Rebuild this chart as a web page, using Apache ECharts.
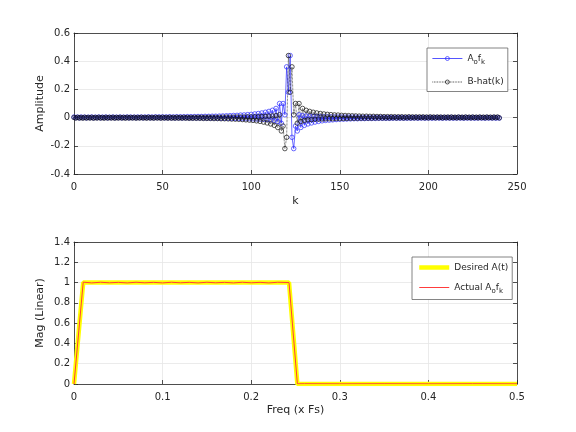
<!DOCTYPE html>
<html>
<head>
<meta charset="utf-8">
<script src="https://cdn.jsdelivr.net/npm/echarts@6/dist/echarts.min.js"></script>
<style>
html,body{margin:0;padding:0;background:#fff;}
#chart{width:576px;height:432px;}
</style>
</head>
<body>
<div id="chart"></div>
<script>
// top plot: coefficients over k = 0..240
var ampA = [
  0.004,-0.001,0.003,-0.002,0.004,-0.001,0.003,-0.002,0.003,-0.001,
  0.004,-0.002,0.003,-0.001,0.004,-0.002,0.003,-0.001,0.004,-0.002,
  0.003,-0.001,0.004,-0.002,0.003,-0.001,0.004,-0.002,0.003,-0.001,
  0.004,-0.002,0.004,-0.001,0.003,-0.002,0.004,-0.001,0.004,-0.002,
  0.004,-0.001,0.005,-0.002,0.004,-0.002,0.005,-0.001,0.005,-0.002,
  0.005,-0.002,0.005,-0.002,0.006,-0.002,0.005,-0.003,0.006,-0.002,
  0.006,-0.003,0.006,-0.002,0.007,-0.003,0.007,-0.003,0.007,-0.003,
  0.008,-0.003,0.008,-0.003,0.009,-0.004,0.009,-0.004,0.010,-0.004,
  0.010,-0.004,0.011,-0.005,0.012,-0.005,0.013,-0.005,0.014,-0.006,
  0.015,-0.006,0.016,-0.007,0.018,-0.007,0.019,-0.008,0.021,-0.008,
  0.023,-0.009,0.026,-0.010,0.029,-0.011,0.033,-0.012,0.038,-0.014,
  0.044,-0.016,0.052,-0.020,0.065,-0.028,0.100,-0.040,0.100,0.020,
  0.360,0.180,0.440,-0.140,-0.220,-0.060,-0.095,0.020,-0.070,0.014,
  -0.055,0.012,-0.045,0.010,-0.038,0.009,-0.032,0.008,-0.027,0.007,
  -0.023,0.006,-0.020,0.005,-0.018,0.005,-0.016,0.004,-0.014,0.004,
  -0.012,0.004,-0.011,0.003,-0.010,0.003,-0.009,0.003,-0.008,0.003,
  -0.008,0.002,-0.007,0.002,-0.007,0.002,-0.006,0.002,-0.006,0.002,
  -0.006,0.002,-0.005,0.002,-0.005,0.002,-0.005,0.001,-0.005,0.001,
  -0.004,0.002,-0.004,0.001,-0.004,0.002,-0.004,0.001,-0.004,0.002,
  -0.004,0.001,-0.003,0.002,-0.004,0.001,-0.003,0.002,-0.004,0.001,
  -0.003,0.002,-0.004,0.001,-0.003,0.002,-0.003,0.001,-0.004,0.002,
  -0.003,0.001,-0.003,0.002,-0.004,0.001,-0.003,0.002,-0.003,0.001,
  -0.004,0.002,-0.003,0.001,-0.003,0.002,-0.004,0.001,-0.003,0.002,
  -0.003,0.001,-0.004,0.002,-0.003,0.001,-0.003,0.002,-0.004,0.001,
  -0.003
];
var ampB = [
  0.001,-0.003,0.002,-0.003,0.001,-0.004,0.002,-0.003,0.001,-0.003,
  0.002,-0.004,0.001,-0.003,0.002,-0.003,0.001,-0.004,0.002,-0.003,
  0.001,-0.003,0.002,-0.004,0.001,-0.003,0.002,-0.003,0.001,-0.004,
  0.002,-0.003,0.001,-0.003,0.002,-0.004,0.001,-0.003,0.002,-0.003,
  0.001,-0.004,0.002,-0.003,0.001,-0.004,0.002,-0.003,0.001,-0.004,
  0.002,-0.003,0.001,-0.004,0.002,-0.004,0.001,-0.004,0.002,-0.004,
  0.001,-0.004,0.002,-0.004,0.001,-0.005,0.001,-0.005,0.002,-0.005,
  0.002,-0.005,0.002,-0.006,0.002,-0.006,0.002,-0.006,0.002,-0.007,
  0.002,-0.007,0.002,-0.008,0.003,-0.008,0.003,-0.009,0.003,-0.010,
  0.003,-0.011,0.004,-0.012,0.004,-0.014,0.004,-0.016,0.005,-0.018,
  0.005,-0.020,0.006,-0.023,0.007,-0.027,0.008,-0.032,0.009,-0.038,
  0.010,-0.045,0.012,-0.055,0.014,-0.070,0.020,-0.095,-0.060,-0.220,
  -0.140,0.440,0.180,0.360,0.020,0.100,-0.040,0.100,-0.028,0.065,
  -0.020,0.052,-0.016,0.044,-0.014,0.038,-0.012,0.033,-0.011,0.029,
  -0.010,0.026,-0.009,0.023,-0.008,0.021,-0.008,0.019,-0.007,0.018,
  -0.007,0.016,-0.006,0.015,-0.006,0.014,-0.005,0.013,-0.005,0.012,
  -0.005,0.011,-0.004,0.010,-0.004,0.010,-0.004,0.009,-0.004,0.009,
  -0.003,0.008,-0.003,0.008,-0.003,0.007,-0.003,0.007,-0.003,0.007,
  -0.002,0.006,-0.003,0.006,-0.002,0.006,-0.003,0.005,-0.002,0.006,
  -0.002,0.005,-0.002,0.005,-0.002,0.005,-0.001,0.005,-0.002,0.004,
  -0.002,0.005,-0.001,0.004,-0.002,0.004,-0.001,0.004,-0.002,0.003,
  -0.001,0.004,-0.002,0.004,-0.001,0.003,-0.002,0.004,-0.001,0.003,
  -0.002,0.004,-0.001,0.003,-0.002,0.004,-0.001,0.003,-0.002,0.004,
  -0.001,0.003,-0.002,0.004,-0.001,0.003,-0.002,0.004,-0.001,0.004,
  -0.002
];

// bottom plot: magnitude vs frequency
var desiredFreq = [0, 0.0104, 0.2427, 0.2521, 0.5];
var desiredMag  = [0, 1, 1, 0, 0];
var actualFreq = [0, 0.0104, 0.02, 0.03, 0.04, 0.05, 0.06, 0.07, 0.08, 0.09, 0.10, 0.11, 0.12,
  0.13, 0.14, 0.15, 0.16, 0.17, 0.18, 0.19, 0.20, 0.21, 0.22, 0.23, 0.2427, 0.2521,
  0.26, 0.30, 0.35, 0.40, 0.45, 0.5];
var actualMag = [0, 1.004, 0.997, 1.003, 0.998, 1.002, 0.997, 1.003, 0.998, 1.002, 0.997, 1.003, 0.998,
  1.002, 0.997, 1.003, 0.998, 1.002, 0.997, 1.003, 0.998, 1.002, 0.997, 1.003, 1.000, 0.002,
  0.003, 0.002, 0.003, 0.002, 0.003, 0.002];

function pairs(xs, ys) {
    var out = [];
    for (var i = 0; i < ys.length; i++) {
        out.push([xs ? xs[i] : i, ys[i]]);
    }
    return out;
}

var axisColor = '#262626';
var gridColor = '#e6e6e6';
var legendText = {
    'A_o f_k': '{m|A}{s|o}{m|f}{s|k}',
    'B-hat(k)': '{m|B-hat(k)}',
    'Desired A(t)': '{m|Desired A(t)}',
    'Actual A_o f_k': '{m|Actual A}{s|o}{m|f}{s|k}'
};
var richText = {
    m: {fontSize: 9, color: axisColor, lineHeight: 14, verticalAlign: 'middle'},
    s: {fontSize: 7, color: axisColor, verticalAlign: 'bottom'}
};

function mainX(gi, min, max, step, name, gap) {
    return {
        type: 'value', gridIndex: gi, min: min, max: max, interval: step,
        name: name, nameLocation: 'middle', nameGap: gap,
        nameTextStyle: {fontSize: 11, color: axisColor},
        axisLine: {show: true, onZero: false, lineStyle: {color: axisColor, width: 0.8}},
        axisTick: {show: true, inside: true, length: 4, lineStyle: {color: axisColor, width: 0.8}},
        axisLabel: {fontSize: 10, color: axisColor, margin: 8},
        splitLine: {show: true, lineStyle: {color: gridColor, width: 0.8}}
    };
}
function mainY(gi, min, max, step, name) {
    return {
        type: 'value', gridIndex: gi, min: min, max: max, interval: step,
        name: name, nameLocation: 'middle', nameGap: 28, nameMoveOverlap: false,
        nameTextStyle: {fontSize: 11, color: axisColor},
        axisLine: {show: true, onZero: false, lineStyle: {color: axisColor, width: 0.8}},
        axisTick: {show: true, inside: true, length: 4, lineStyle: {color: axisColor, width: 0.8}},
        axisLabel: {fontSize: 10, color: axisColor, margin: 4},
        splitLine: {show: true, lineStyle: {color: gridColor, width: 0.8}}
    };
}
// box axes (top / right), ticks only
function boxAxis(gi, min, max, step, pos) {
    return {
        type: 'value', gridIndex: gi, min: min, max: max, interval: step, position: pos,
        axisLine: {show: true, onZero: false, lineStyle: {color: axisColor, width: 0.8}},
        axisTick: {show: true, inside: true, length: 4, lineStyle: {color: axisColor, width: 0.8}},
        axisLabel: {show: false},
        splitLine: {show: false}
    };
}

var chart = echarts.init(document.getElementById('chart'));
var option = {
    animation: false,
    backgroundColor: '#ffffff',
    textStyle: {fontFamily: 'DejaVu Sans'},
    grid: [
        {left: 74, top: 33, width: 443, height: 141},
        {left: 74, top: 242, width: 443, height: 142}
    ],
    xAxis: [
        mainX(0, 0, 250, 50, 'k', 22),
        mainX(1, 0, 0.5, 0.1, 'Freq (x Fs)', 21),
        boxAxis(0, 0, 250, 50, 'top'),
        boxAxis(1, 0, 0.5, 0.1, 'top')
    ],
    yAxis: [
        mainY(0, -0.4, 0.6, 0.2, 'Amplitude'),
        mainY(1, 0, 1.4, 0.2, 'Mag (Linear)'),
        boxAxis(0, -0.4, 0.6, 0.2, 'right'),
        boxAxis(1, 0, 1.4, 0.2, 'right')
    ],
    legend: [
        {
            data: ['A_o f_k', 'B-hat(k)'],
            orient: 'vertical', left: 427, top: 48,
            padding: [6, 4, 5, 5], itemWidth: 30, itemHeight: 5, itemGap: 12,
            backgroundColor: '#fff', borderColor: '#666', borderWidth: 0.8,
            lineStyle: {width: 0.8},
            itemStyle: {borderWidth: 0.7},
            formatter: function (n) { return legendText[n]; },
            textStyle: {rich: richText}
        },
        {
            data: [
                {name: 'Desired A(t)', itemStyle: {opacity: 0}},
                {name: 'Actual A_o f_k', itemStyle: {opacity: 0}}
            ],
            orient: 'vertical', left: 412, top: 257,
            padding: [6, 4, 5, 5], itemWidth: 30, itemHeight: 8, itemGap: 11,
            backgroundColor: '#fff', borderColor: '#666', borderWidth: 0.8,
            lineStyle: {width: 'inherit'},
            formatter: function (n) { return legendText[n]; },
            textStyle: {rich: richText}
        }
    ],
    series: [
        {
            name: 'A_o f_k', type: 'line', xAxisIndex: 0, yAxisIndex: 0,
            data: pairs(null, ampA),
            symbol: 'circle', symbolSize: 4.5,
            lineStyle: {color: '#2a2aff', width: 0.7},
            itemStyle: {color: 'rgba(255,255,255,0)', borderColor: '#2a2aff', borderWidth: 0.7}
        },
        {
            name: 'B-hat(k)', type: 'line', xAxisIndex: 0, yAxisIndex: 0,
            data: pairs(null, ampB),
            symbol: 'circle', symbolSize: 4.5,
            lineStyle: {color: '#111', width: 0.7, type: 'dotted'},
            itemStyle: {color: 'rgba(255,255,255,0)', borderColor: '#111', borderWidth: 0.7}
        },
        {
            name: 'Desired A(t)', type: 'line', xAxisIndex: 1, yAxisIndex: 1,
            data: pairs(desiredFreq, desiredMag),
            symbol: 'none',
            lineStyle: {color: '#ffff00', width: 4.5},
            itemStyle: {color: '#ffff00'}
        },
        {
            name: 'Actual A_o f_k', type: 'line', xAxisIndex: 1, yAxisIndex: 1,
            data: pairs(actualFreq, actualMag),
            symbol: 'none',
            lineStyle: {color: '#ff3c3c', width: 1},
            itemStyle: {color: '#ff7070'}
        }
    ]
};
chart.setOption(option);
</script>
</body>
</html>
